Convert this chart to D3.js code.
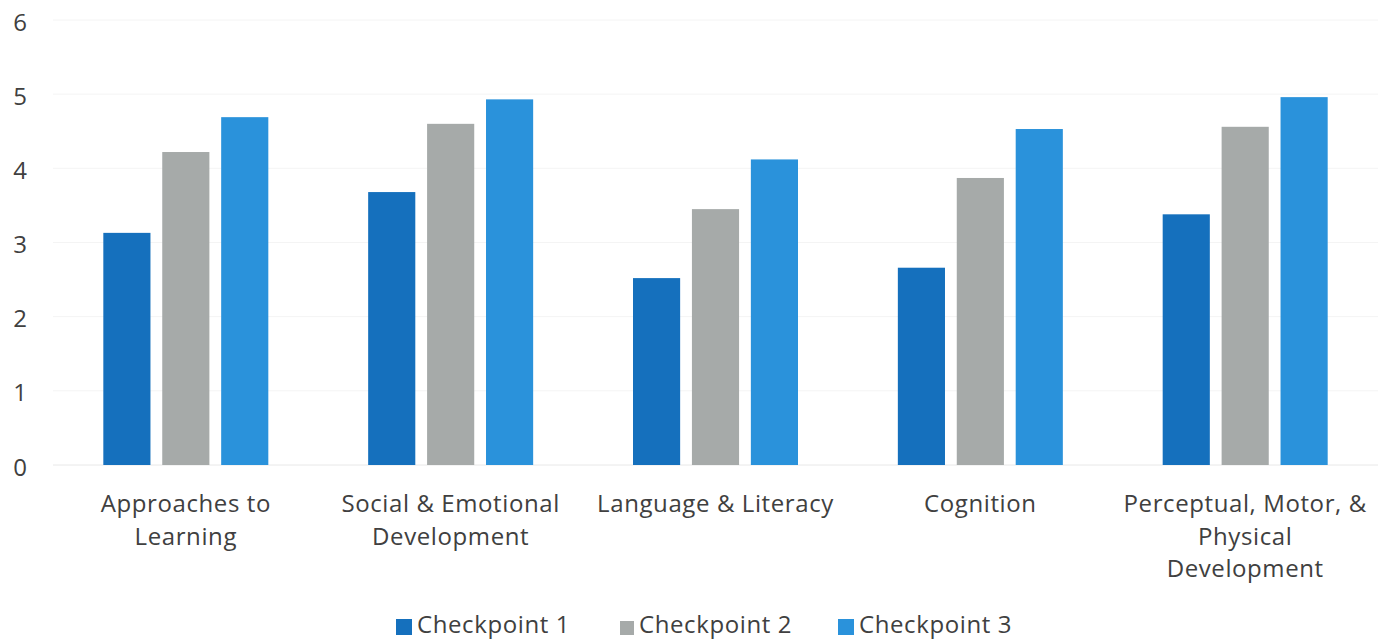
<!DOCTYPE html>
<html>
<head>
<meta charset="utf-8">
<script src="https://cdn.jsdelivr.net/npm/d3@7"></script>
<style>
  body { margin: 0; background: #fff; }
  svg text { font-family: "Open Sans", "Noto Sans", sans-serif; fill: #404040; }
</style>
</head>
<body>
<div id="chart"></div>
<script>
const categories = [
  ["Approaches to", "Learning"],
  ["Social & Emotional", "Development"],
  ["Language & Literacy"],
  ["Cognition"],
  ["Perceptual, Motor, &", "Physical", "Development"],
];
const seriesNames = ["Checkpoint 1", "Checkpoint 2", "Checkpoint 3"];
const checkpoint1 = [3.13, 3.68, 2.52, 2.66, 3.38];
const checkpoint2 = [4.22, 4.6, 3.45, 3.87, 4.56];
const checkpoint3 = [4.69, 4.93, 4.12, 4.53, 4.96];
const yTicks = [0, 1, 2, 3, 4, 5, 6];
const colors = ["#1570bd", "#a6aaa9", "#2a92db"];

const width = 1387;
const height = 641;

// chart dimensions
let dimensions = {
  width: width,
  height: height,
  margin: { top: 20, right: 9, bottom: 176, left: 53 },
};
dimensions.boundedWidth = dimensions.width - dimensions.margin.left - dimensions.margin.right;
dimensions.boundedHeight = dimensions.height - dimensions.margin.top - dimensions.margin.bottom;

const series = [checkpoint1, checkpoint2, checkpoint3];
const keys = categories.map((c) => c.join(" "));
const dataset = keys.map((k, i) => ({
  key: k,
  values: series.map((s, j) => ({ name: seriesNames[j], value: s[i], idx: j })),
}));

const wrapper = d3
  .select("#chart")
  .append("svg")
  .attr("width", dimensions.width)
  .attr("height", dimensions.height);

const bounds = wrapper
  .append("g")
  .attr("transform", `translate(${dimensions.margin.left},${dimensions.margin.top})`);

// scales
const xScale = d3
  .scaleBand()
  .domain(keys)
  .range([0, dimensions.boundedWidth])
  .paddingInner(0.377)
  .paddingOuter(0.19);

const xInner = d3
  .scaleBand()
  .domain(seriesNames)
  .range([0, xScale.bandwidth()])
  .paddingInner(0.2);

const yScale = d3
  .scaleLinear()
  .domain([0, 6])
  .range([dimensions.boundedHeight, 0]);

// faint gridlines
bounds
  .append("g")
  .selectAll("line")
  .data(yTicks)
  .enter()
  .append("line")
  .attr("x1", 0)
  .attr("x2", dimensions.boundedWidth)
  .attr("y1", (d) => yScale(d))
  .attr("y2", (d) => yScale(d))
  .attr("stroke", (d) => (d === 0 ? "#e8e8e8" : "#f4f4f4"))
  .attr("stroke-width", 1);

// y labels
const yAxis = bounds
  .append("g")
  .call(
    d3.axisLeft(yScale).tickValues(yTicks).tickFormat(d3.format("d")).tickSize(0).tickPadding(26)
  );
yAxis.select(".domain").remove();
yAxis
  .selectAll("text")
  .style("font-size", "24px")
  .style("font-family", null)
  .attr("fill", null)
  .attr("dy", "0.42em");

// bars
bounds
  .selectAll(".group")
  .data(dataset)
  .enter()
  .append("g")
  .attr("class", "group")
  .attr("transform", (d) => `translate(${xScale(d.key)},0)`)
  .selectAll("rect")
  .data((d) => d.values)
  .enter()
  .append("rect")
  .attr("x", (d) => xInner(d.name))
  .attr("y", (d) => yScale(d.value))
  .attr("width", xInner.bandwidth())
  .attr("height", (d) => yScale(0) - yScale(d.value))
  .attr("fill", (d) => colors[d.idx]);

// category labels
const xLabels = bounds
  .append("g")
  .selectAll("text")
  .data(categories)
  .enter()
  .append("text")
  .attr("x", (d, i) => xScale(keys[i]) + xScale.bandwidth() / 2)
  .attr("y", dimensions.boundedHeight + 47)
  .attr("text-anchor", "middle")
  .style("font-size", "24px")
  .style("letter-spacing", "0.6px");

xLabels
  .selectAll("tspan")
  .data((d) => d)
  .enter()
  .append("tspan")
  .attr("x", function () {
    return d3.select(this.parentNode).attr("x");
  })
  .attr("dy", (d, i) => (i === 0 ? 0 : 32.5))
  .text((d) => d);

// legend
const legendItems = [
  { x: 396, size: 16 },
  { x: 620, size: 14 },
  { x: 838, size: 16 },
];
const legend = wrapper.append("g").attr("transform", "translate(0,633)");
const items = legend
  .selectAll("g")
  .data(seriesNames)
  .enter()
  .append("g")
  .attr("transform", (d, i) => `translate(${legendItems[i].x},0)`);

items
  .append("rect")
  .attr("x", 0)
  .attr("y", (d, i) => -legendItems[i].size + 2)
  .attr("width", (d, i) => legendItems[i].size)
  .attr("height", (d, i) => legendItems[i].size)
  .attr("fill", (d, i) => colors[i]);

items
  .append("text")
  .attr("x", (d, i) => legendItems[i].size + 5)
  .attr("y", 0)
  .style("font-size", "24px")
  .style("letter-spacing", "0.6px")
  .text((d) => d);
</script>
</body>
</html>
